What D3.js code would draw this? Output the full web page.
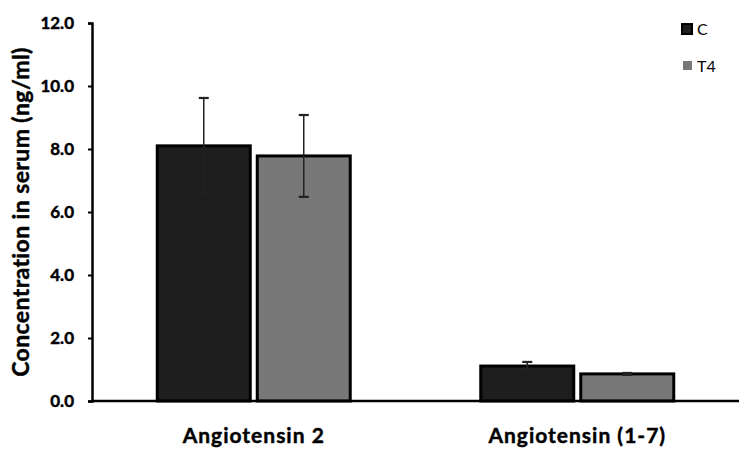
<!DOCTYPE html>
<html>
<head>
<meta charset="utf-8">
<style>
  body { margin: 0; background: #fff; }
  text { font-family: Lato, "Open Sans", sans-serif; }
  .heavy { stroke: #000; stroke-width: 0.45px; paint-order: stroke; }
</style>
</head>
<body>
<script src="https://d3js.org/d3.v7.min.js"></script>
<script>
var categories = ["Angiotensin 2", "Angiotensin (1-7)"];
var groups = ["C", "T4"];
var meanC = [8.10, 1.11];
var meanT4 = [7.78, 0.86];
var errC = [1.52, 0.13];
var errT4 = [1.30, 0.03];
var yTicks = [0, 2, 4, 6, 8, 10, 12];

var width = 744, height = 456;
var margin = {left: 92, right: 5, top: 23, bottom: 55};
var colors = {C: "#1e1e1e", T4: "#787878"};

var svg = d3.select("body").append("svg")
    .attr("width", width)
    .attr("height", height);

var x = d3.scaleBand().domain(categories)
    .range([margin.left, width - margin.right]);
var xi = d3.scaleBand().domain(groups)
    .range([0, 193]).paddingInner(0.07);
var y = d3.scaleLinear().domain([0, 12])
    .range([height - margin.bottom, margin.top]);

var rows = [];
categories.forEach(function(c, i) {
  rows.push({cat: c, grp: "C", v: meanC[i], e: errC[i]});
  rows.push({cat: c, grp: "T4", v: meanT4[i], e: errT4[i]});
});

function bx(d) { return x(d.cat) + x.bandwidth() / 2 - 96.5 + xi(d.grp); }

svg.append("g").selectAll("rect")
  .data(rows)
  .join("rect")
  .attr("x", bx)
  .attr("y", d => y(d.v))
  .attr("width", xi.bandwidth())
  .attr("height", d => y(0) - y(d.v))
  .attr("fill", d => colors[d.grp])
  .attr("stroke", "#000")
  .attr("stroke-width", 3);

// error bars
var eb = svg.append("g").attr("stroke", "#222").attr("stroke-width", 1.5);
rows.forEach(function(d) {
  var cx = bx(d) + xi.bandwidth() / 2;
  eb.append("line").attr("x1", cx).attr("x2", cx)
    .attr("y1", y(d.v + d.e)).attr("y2", y(d.v - d.e));
  [d.v + d.e, d.v - d.e].forEach(function(t) {
    eb.append("line").attr("x1", cx - 5).attr("x2", cx + 5)
      .attr("y1", y(t)).attr("y2", y(t)).attr("stroke-width", 2.2);
  });
});

// axes
var yAxis = svg.append("g")
  .attr("transform", "translate(" + margin.left + ",0)")
  .call(d3.axisLeft(y).tickValues(yTicks).tickSize(4).tickPadding(14)
        .tickFormat(d3.format(".1f")).tickSizeOuter(4));
yAxis.select(".domain").attr("stroke", "#000").attr("stroke-width", 2.5);
yAxis.selectAll(".tick line").attr("stroke", "#000").attr("stroke-width", 2);
yAxis.selectAll(".tick text")
  .attr("class", "heavy")
  .attr("font-family", "Lato, sans-serif")
  .attr("font-size", 17).attr("font-weight", "bold").attr("fill", "#000");

svg.append("line")
  .attr("x1", margin.left - 1).attr("x2", width - margin.right)
  .attr("y1", y(0)).attr("y2", y(0))
  .attr("stroke", "#000").attr("stroke-width", 2.5);

svg.append("g").selectAll("text")
  .data(categories)
  .join("text")
  .attr("class", "heavy")
  .attr("x", d => x(d) + x.bandwidth() / 2)
  .attr("y", 443)
  .attr("text-anchor", "middle")
  .attr("font-size", 21).attr("font-weight", "bold")
  .attr("letter-spacing", 1)
  .text(d => d);

svg.append("text")
  .attr("class", "heavy")
  .attr("transform", "translate(29," + ((margin.top + y(0)) / 2) + ") rotate(-90)")
  .attr("text-anchor", "middle")
  .attr("font-size", 23).attr("font-weight", "bold")
  .attr("letter-spacing", 0.4)
  .text("Concentration in serum (ng/ml)");

// legend
var leg = svg.append("g");
groups.forEach(function(g, i) {
  var ly = 29 + i * 37;
  leg.append("rect")
    .attr("x", g === "C" ? 682 : 683).attr("y", ly - 5)
    .attr("width", g === "C" ? 10 : 9).attr("height", g === "C" ? 10 : 9)
    .attr("fill", colors[g])
    .attr("stroke", g === "C" ? "#000" : "none").attr("stroke-width", 2);
  leg.append("text")
    .attr("x", 697).attr("y", ly + 6)
    .attr("font-size", 16)
    .text(g);
});
</script>
</body>
</html>
